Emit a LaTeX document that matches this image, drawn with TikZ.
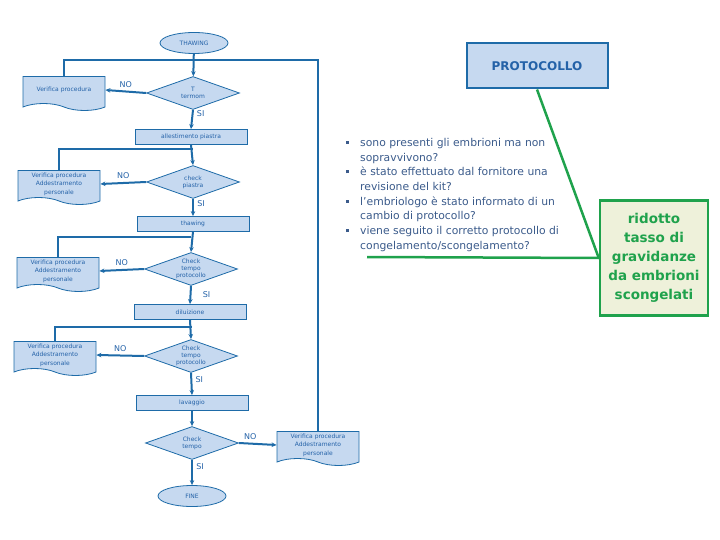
\documentclass[tikz,border=0pt]{standalone}
\usepackage{fontspec}
\setmainfont{DejaVu Sans}
\usepackage{xcolor}
\usepackage{tikz}
\usetikzlibrary{positioning, arrows.meta, shapes.geometric, shapes.symbols}
\definecolor{flowblue}{HTML}{1E6BA8}
\definecolor{lightblue}{HTML}{C6D9F0}
\definecolor{textblue}{HTML}{2462A8}
\definecolor{notegrey}{HTML}{3B5B8B}
\definecolor{fishgreen}{HTML}{1FA24C}
\definecolor{paleyellow}{HTML}{EEF1DA}

\tikzset{
    flow/.style={draw=flowblue, line width=2pt},
    flowarrow/.style={flow, -{Stealth[length=5pt, width=4.5pt]}},
    taskbox/.style={rectangle, draw=flowblue, fill=lightblue, line width=0.8pt,
          minimum width=112pt, minimum height=15pt, inner sep=1pt,
          font=\fontsize{6}{7}\selectfont, text=textblue},
    checkbox/.style={diamond, draw=flowblue, fill=lightblue, line width=0.8pt,
          aspect=2.8, minimum width=93pt, minimum height=33pt, inner sep=0pt,
          align=center, font=\fontsize{6}{7}\selectfont, text=textblue},
    endbox/.style={ellipse, draw=flowblue, fill=lightblue, line width=0.8pt,
          minimum width=68pt, minimum height=21pt, inner sep=1pt,
          font=\fontsize{6}{7}\selectfont, text=textblue},
    docbox/.style={tape, tape bend top=none, tape bend bottom=out and in,
          tape bend height=7pt, draw=flowblue, fill=lightblue, line width=0.8pt,
          minimum width=82pt, minimum height=34pt, inner sep=1pt, align=center,
          font=\fontsize{6}{8.5}\selectfont, text=textblue},
    answer/.style={font=\fontsize{8}{9}\selectfont, text=textblue}
}
\newcommand{\causemark}{\rule[2.5pt]{3pt}{3pt}}

\begin{document}
\begin{tikzpicture}[x=1pt, y=-1pt]
    \useasboundingbox (0,0) rectangle (720,540);

    \node[endbox] (thaw) at (194,43) {THAWING};
    \node[checkbox] (d1) at (193,93) {T\\termom};
    \node[docbox] (v1) at (64,90) {Verifica procedura};
    \node[taskbox] (s1) at (191,137) {allestimento piastra};
    \node[checkbox] (d2) at (193,182) {check\\piastra};
    \node[docbox] (v2) at (59,184) {Verifica procedura\\Addestramento\\personale};
    \node[taskbox] (s2) at (193,224) {thawing};
    \node[checkbox] (d3) at (191,269) {Check\\tempo\\protocollo};
    \node[docbox] (v3) at (58,271) {Verifica procedura\\Addestramento\\personale};
    \node[taskbox] (s3) at (190,312) {diluizione};
    \node[checkbox] (d4) at (191,356) {Check\\tempo\\protocollo};
    \node[docbox] (v4) at (55,355) {Verifica procedura\\Addestramento\\personale};
    \node[taskbox] (s4) at (192,403) {lavaggio};
    \node[checkbox] (d5) at (192,443) {Check\\tempo};
    \node[docbox] (v5) at (318,445) {Verifica procedura\\Addestramento\\personale};
    \node[endbox] (fine) at (192,496) {FINE};

    \coordinate (j1) at (193,60);
    \coordinate (j2) at (193,149);
    \coordinate (j3) at (191,237);
    \coordinate (j4) at (192,327);

    \draw[flowarrow] (thaw) -- (d1);
    \draw[flow] (v1.north) |- (j1) -| (v5.north);
    \draw[flowarrow] (d1.west) -- node[answer, above] {NO} (v1.east);
    \draw[flowarrow] (d1.south) -- node[answer, pos=0.2, right] {SI} (s1.north);

    \draw[flowarrow] (s1.south) -- (d2.north);
    \draw[flow] (v2.north) |- (j2);
    \draw[flowarrow] (d2.west) -- node[answer, above] {NO} (v2.east);
    \draw[flowarrow] (d2.south) -- node[answer, pos=0.25, right] {SI} (s2.north);

    \draw[flowarrow] (s2.south) -- (d3.north);
    \draw[flow] (v3.north) |- (j3);
    \draw[flowarrow] (d3.west) -- node[answer, above] {NO} (v3.east);
    \draw[flowarrow] (d3.south) -- node[answer, pos=0.45, right=8pt] {SI} (s3.north);

    \draw[flowarrow] (s3.south) -- (d4.north);
    \draw[flow] (v4.north) |- (j4);
    \draw[flowarrow] (d4.west) -- node[answer, above] {NO} (v4.east);
    \draw[flowarrow] (d4.south) -- node[answer, pos=0.3, right] {SI} (s4.north);

    \draw[flowarrow] (s4.south) -- (d5.north);
    \draw[flowarrow] (d5.east) -- node[answer, pos=0.3, above] {NO} (v5.west);
    \draw[flowarrow] (d5.south) -- node[answer, pos=0.25, right] {SI} (fine.north);

    % protocollo branch
    \node[draw=flowblue, fill=lightblue, line width=2pt, minimum width=141pt,
          minimum height=45pt, font=\bfseries\fontsize{12}{14}\selectfont, text=textblue]
          (proto) at (537,66) {PROTOCOLLO};
    \node[draw=fishgreen, fill=paleyellow, line width=2.5pt, minimum width=108pt,
          minimum height=115pt, align=center, text=fishgreen,
          font=\bfseries\fontsize{13.5}{19}\selectfont]
          (effect) at (654,258) {ridotto\\tasso di\\gravidanze\\da embrioni\\scongelati};
    \coordinate (spine) at (367,257);
    \draw[draw=fishgreen, line width=2.5pt] (proto.south) -- (effect.west);
    \draw[draw=fishgreen, line width=2.5pt] (spine) -- (effect.west);

    \node[anchor=north west, inner sep=0pt, text=notegrey] (causes) at (346,136) {%
      \fontsize{10.8}{14.7}\selectfont
      \begin{tabular}{@{}l@{\hspace{11pt}}l@{}}
      \causemark & sono presenti gli embrioni ma non\\
                 & sopravvivono?\\
      \causemark & è stato effettuato dal fornitore una\\
                 & revisione del kit?\\
      \causemark & l'embriologo è stato informato di un\\
                 & cambio di protocollo?\\
      \causemark & viene seguito il corretto protocollo di\\
                 & congelamento/scongelamento?
      \end{tabular}};
\end{tikzpicture}
\end{document}
